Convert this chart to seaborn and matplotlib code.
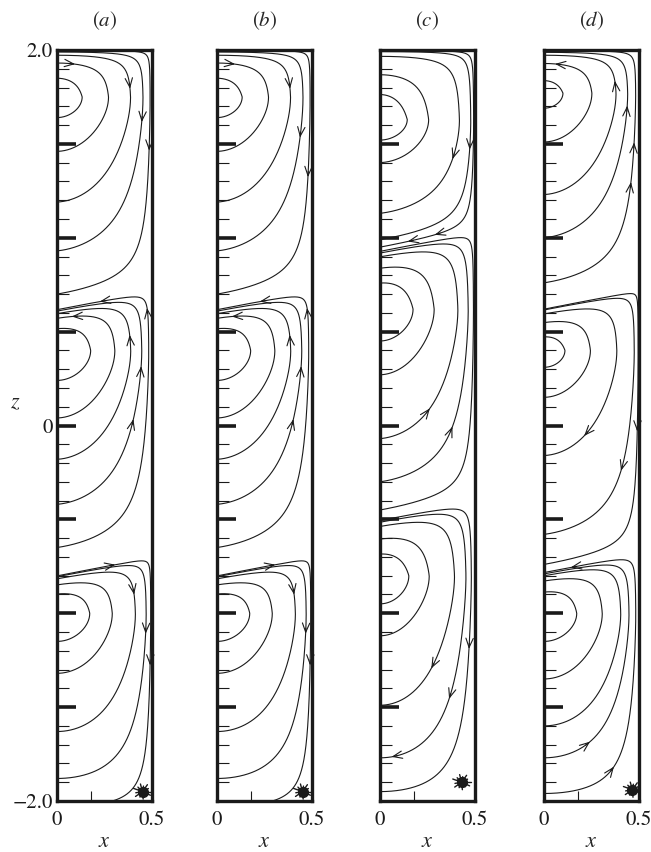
import numpy as np
import matplotlib
matplotlib.use("Agg")
import matplotlib.pyplot as plt
from matplotlib.ticker import FixedLocator
import seaborn as sns
import contourpy

# ---------------- data ----------------
panel_names = ["a", "b", "c", "d"]

# cell limits (z at x = 0), cell centre heights, circulation sign (+1 = clockwise)
# *_lines: heights where each drawn streamline meets the axis x = 0 (lower branch)
a_bottom = [-2.08, -0.80, 0.62]
a_center = [-1.00, 0.40, 1.75]
a_top = [-0.80, 0.62, 2.00]
a_sign = [1, -1, 1]
a_lines = [[-1.15, -1.32, -1.63, -1.88, -2.03],
           [0.24, 0.04, -0.18, -0.42, -0.65],
           [1.64, 1.46, 1.19, 0.93, 0.70]]
a_arrows = [(0, 4, 0.14), (0, 2, 0.33), (0, 3, 0.43), (0, 4, 0.48),
            (1, 1, 0.10), (1, 4, 0.12), (1, 2, 0.37), (1, 3, 0.45), (1, 3, 0.62), (1, 4, 0.26),
            (2, 1, 0.10), (2, 2, 0.37), (2, 3, 0.45), (2, 4, 0.48)]

b_bottom = [-2.08, -0.80, 0.62]
b_center = [-1.00, 0.40, 1.75]
b_top = [-0.80, 0.62, 2.00]
b_sign = [1, -1, 1]
b_lines = [[-1.15, -1.32, -1.63, -1.88, -2.03],
           [0.24, 0.04, -0.18, -0.42, -0.65],
           [1.64, 1.46, 1.19, 0.93, 0.70]]
b_arrows = [(0, 4, 0.14), (0, 2, 0.33), (0, 3, 0.43), (0, 4, 0.48),
            (1, 1, 0.10), (1, 4, 0.12), (1, 2, 0.37), (1, 3, 0.45), (1, 3, 0.62), (1, 4, 0.26),
            (2, 1, 0.10), (2, 2, 0.37), (2, 3, 0.50), (2, 4, 0.55)]

c_bottom = [-2.10, -0.50, 0.93]
c_center = [-0.80, 0.62, 1.63]
c_top = [-0.50, 0.93, 2.00]
c_sign = [1, -1, 1]
c_lines = [[-0.95, -1.12, -1.49, -1.77, -1.95],
           [0.45, 0.27, -0.07, -0.30, -0.45],
           [1.52, 1.40, 1.13, 0.99, 0.95]]
c_arrows = [(0, 2, 0.75), (0, 3, 0.72), (0, 4, 0.53), (0, 3, 0.96),
            (1, 2, 0.80), (1, 3, 0.74),
            (2, 2, 0.62), (2, 3, 0.54), (2, 4, 0.83), (2, 4, 0.91)]

d_bottom = [-2.08, -0.78, 0.62]
d_center = [-1.00, 0.40, 1.77]
d_top = [-0.78, 0.62, 2.00]
d_sign = [-1, 1, -1]
d_lines = [[-1.15, -1.35, -1.60, -1.77, -1.96],
           [0.31, 0.15, -0.16, -0.58, -0.74],
           [1.69, 1.51, 1.23, 1.00, 0.76]]
d_arrows = [(0, 3, 0.85), (0, 4, 0.80), (0, 4, 0.08),
            (1, 2, 0.80), (1, 3, 0.70), (1, 4, 0.54),
            (2, 1, 0.10), (2, 2, 0.37), (2, 3, 0.43), (2, 4, 0.49), (2, 4, 0.60)]

# cell shape (lower decay, upper width) per panel, and the debris blob near the lower corner
cell_k = {"a": 1.7, "b": 1.7, "c": 1.25, "d": 1.7}
cell_tau = {"a": 0.27, "b": 0.27, "c": 0.33, "d": 0.27}
blob_x = [0.45, 0.45, 0.43, 0.465]
blob_z = [-1.95, -1.95, -1.90, -1.94]

panel_left_px = [57, 217, 380, 544]
z_major = [-2.0, -1.5, -1.0, -0.5, 0.0, 0.5, 1.0, 1.5, 2.0]
z_labels = ["\u22122.0", "", "", "", "0", "", "", "", "2.0"]
x_major = [0.0, 0.5]
x_labels = ["0", "0.5"]
x_minor = [0.18]

# ---------------- style ----------------
sns.set_theme(style="white")
plt.rcParams["font.family"] = ["STIXGeneral", "DejaVu Serif"]
plt.rcParams["mathtext.fontset"] = "stix"

W, H = 651, 852
fig = plt.figure(figsize=(W / 100, H / 100), dpi=100)

xg = np.linspace(0.0, 0.5, 301)
zg = np.linspace(-2.12, 2.0, 1650)
X, Z = np.meshgrid(xg, zg)
B = np.cos(np.pi * X)
SEP_TILT = 0.2
EPS = 0.12


def cell_amp(zb0, zc, zt0, k, tau, x, z):
    tb = 0.0 if zb0 < -1.99 else SEP_TILT
    tt = 0.0 if zt0 > 1.99 else SEP_TILT
    zb = zb0 + tb * x
    zt = zt0 + tt * x
    d = np.maximum(zc - z, 0)
    g = np.sqrt(d ** 2 + EPS ** 2) - EPS
    gb = np.sqrt((zc - zb) ** 2 + EPS ** 2) - EPS
    eb = np.exp(-k * gb)
    low = np.clip((np.exp(-k * g) - eb) / (1 - eb), 0, 1)
    t = np.clip((zt - z) / (zt - zc), 0, 1)
    up = (1 - np.exp(-t / tau)) / (1 - np.exp(-1 / tau))
    return np.where(z < zc, low, up)


def draw_arrow(ax, seg, sign, frac):
    d = np.hypot(np.diff(seg[:, 0]), np.diff(seg[:, 1]))
    s = np.concatenate([[0], np.cumsum(d)])
    s0 = frac * s[-1]
    ds = 0.015

    def p(v):
        return (np.interp(v, s, seg[:, 0]), np.interp(v, s, seg[:, 1]))
    tail, head = (p(s0 - ds), p(s0 + ds)) if sign > 0 else (p(s0 + ds), p(s0 - ds))
    ax.annotate("", xy=head, xytext=tail,
                arrowprops=dict(arrowstyle="->,head_length=0.55,head_width=0.22",
                                lw=0.8, color="k", shrinkA=0, shrinkB=0))


data = {
    "a": (a_bottom, a_center, a_top, a_sign, a_lines, a_arrows),
    "b": (b_bottom, b_center, b_top, b_sign, b_lines, b_arrows),
    "c": (c_bottom, c_center, c_top, c_sign, c_lines, c_arrows),
    "d": (d_bottom, d_center, d_top, d_sign, d_lines, d_arrows),
}

blob_ang = np.deg2rad([0, 28, 55, 80, 105, 135, 160, 190, 215, 245, 275, 305, 335, 12, 70, 150, 230, 290])
blob_len = [0.05, 0.035, 0.045, 0.03, 0.042, 0.034, 0.05, 0.036, 0.045, 0.032, 0.04, 0.03,
            0.046, 0.024, 0.022, 0.026, 0.024, 0.02]

for pi, name in enumerate(panel_names):
    bottoms, centers, tops, signs, lines, arrows = data[name]
    k_ = cell_k[name]
    tau = cell_tau[name]
    left = panel_left_px[pi]
    ax = fig.add_axes([left / W, 1 - 801 / H, 95 / W, 751 / H])
    segs_by_cell = []
    for k in range(len(bottoms)):
        A = cell_amp(bottoms[k], centers[k], tops[k], k_, tau, X, Z)
        psi = A * B
        gen = contourpy.contour_generator(x=xg, y=zg, z=psi)
        A0 = cell_amp(bottoms[k], centers[k], tops[k], k_, tau, 0.0, np.array(lines[k]))
        segs = []
        for lev in A0:
            ls = gen.lines(float(lev))
            if len(ls) == 0:
                segs.append(None)
                continue
            seg = max(ls, key=len)
            if seg[0, 1] < seg[-1, 1]:
                seg = seg[::-1]
            segs.append(seg)
            sns.lineplot(x=seg[:, 0], y=seg[:, 1], sort=False, estimator=None,
                         color="k", linewidth=0.8, ax=ax, legend=False)
        segs_by_cell.append(segs)
    for (k, i, f) in arrows:
        seg = segs_by_cell[k][i]
        if seg is not None:
            draw_arrow(ax, seg, signs[k], f)

    # debris near the lower right corner
    for a_, r_ in zip(blob_ang, blob_len):
        ax.plot([blob_x[pi], blob_x[pi] + r_ * np.cos(a_)],
                [blob_z[pi], blob_z[pi] + r_ * np.sin(a_)], color="k", lw=1.0,
                clip_on=True)
    ax.plot([blob_x[pi]], [blob_z[pi]], marker="o", ms=7, color="k")

    ax.set_xlim(0, 0.5)
    ax.set_ylim(-2, 2)
    ax.set_xlabel("")
    ax.set_ylabel("")
    for sp in ax.spines.values():
        sp.set_color("k")
        sp.set_linewidth(2.4)
        sp.set_visible(True)
    ax.set_yticks(z_major)
    ax.set_yticklabels(z_labels if name == "a" else [""] * len(z_major))
    ax.yaxis.set_minor_locator(FixedLocator(
        [v / 10 for v in range(-19, 20) if v % 5 != 0]))
    ax.set_xticks(x_major)
    ax.set_xticklabels(x_labels)
    ax.xaxis.set_minor_locator(FixedLocator(x_minor))
    ax.tick_params(axis="y", which="major", direction="in", length=14, width=2.6,
                   left=True, right=False, labelsize=15, pad=3, color="k")
    ax.tick_params(axis="y", which="minor", direction="in", length=8.5, width=0.8,
                   left=True, right=False, color="k")
    ax.tick_params(axis="x", which="major", length=0, labelsize=15, pad=7)
    ax.tick_params(axis="x", which="minor", direction="in", length=7, width=0.8,
                   bottom=True, top=False, color="k")
    ticks = ax.yaxis.get_major_ticks()
    for tk in (ticks[0], ticks[-1]):
        tk.tick1line.set_visible(False)
    for lab in ax.get_xticklabels() + ax.get_yticklabels():
        lab.set_color("k")

    cx = (left + 47.5) / W
    fig.text(cx, 1 - 21 / H, "$(" + name + ")$", ha="center", va="center", fontsize=15)
    fig.text(cx, 1 - 842 / H, "$x$", ha="center", va="center", fontsize=16)

fig.text(15 / W, 1 - 403 / H, "$z$", ha="center", va="center", fontsize=16)
fig.savefig("out.png", dpi=100)
